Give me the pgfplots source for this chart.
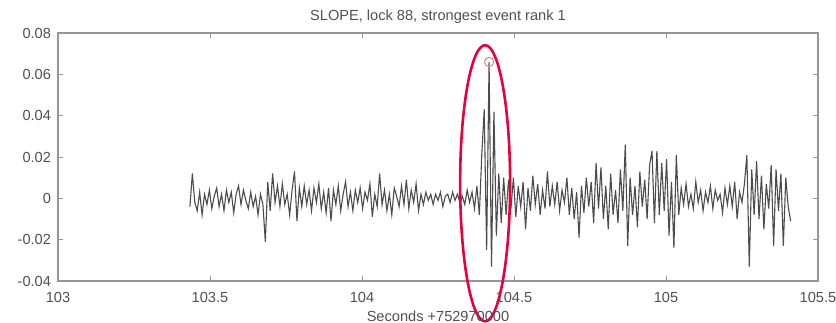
\documentclass[border=0pt]{standalone}
\usepackage{pgfplots}
\pgfplotsset{compat=1.18}
\usepackage{pgfplotstable}
\usepackage{fontspec}
\setmainfont{Liberation Sans}
\definecolor{axgray}{RGB}{150,150,150}
\definecolor{txtgray}{RGB}{80,80,80}
\definecolor{ellred}{RGB}{232,0,62}
\definecolor{pkred}{RGB}{225,130,130}
\pgfplotstableread{
y
-0.004
0.012
-0.002
-0.006
0.003
-0.008
0.002
-0.003
0.004
-0.005
0.001
0.005
-0.004
0.002
-0.006
0.004
-0.002
0.003
-0.007
0.002
0.006
-0.003
0.004
-0.001
-0.005
0.003
-0.004
0.001
-0.008
0.002
-0.003
-0.021
0.008
-0.006
0.012
-0.002
0.006
-0.004
0.007
-0.003
0.002
-0.008
0.004
0.013
-0.011
0.005
-0.004
0.006
-0.003
0.004
-0.006
0.005
-0.002
0.007
-0.005
0.003
-0.007
0.005
-0.011
0.004
-0.003
0.006
-0.006
0.002
0.008
-0.004
0.003
-0.006
0.004
-0.002
0.005
-0.005
0.003
-0.001
0.007
-0.009
0.002
-0.004
0.012
-0.003
0.004
-0.006
0.002
-0.008
0.005
0.001
-0.004
0.006
-0.003
0.009
-0.005
0.004
-0.002
0.007
-0.006
0.002
-0.003
0.003
-0.001
0.002
-0.003
0.002
-0.001
0.003
-0.004
0.001
0.002
-0.002
0.003
-0.001
0.002
-0.002
0.001
-0.003
0.004
-0.002
0.003
-0.005
0.006
-0.008
0.021
0.043
-0.025
0.066
-0.033
0.042
-0.018
0.012
-0.012
0.010
-0.008
0.009
-0.005
0.010
-0.009
0.006
-0.004
0.008
-0.015
0.005
-0.006
0.011
-0.003
0.007
-0.008
0.004
-0.005
0.013
-0.004
0.006
-0.003
0.008
-0.006
0.004
-0.002
0.010
-0.008
0.005
-0.010
0.003
-0.019
0.006
-0.007
0.010
-0.004
0.008
-0.012
0.017
-0.005
0.015
-0.010
0.006
-0.015
0.012
-0.008
0.004
-0.012
0.014
-0.006
0.026
-0.023
0.010
-0.008
0.006
-0.014
0.013
-0.004
0.009
-0.010
0.016
0.023
-0.012
0.023
-0.008
0.017
-0.006
0.019
-0.018
0.008
-0.024
0.021
-0.008
0.005
-0.003
0.007
-0.004
0.002
-0.005
0.008
-0.002
0.004
-0.006
0.003
-0.002
0.006
-0.005
0.004
-0.001
0.002
-0.007
0.005
-0.003
0.006
-0.004
0.008
-0.010
0.003
-0.002
0.007
0.021
-0.033
0.014
-0.008
0.018
-0.010
0.011
-0.015
0.007
-0.005
0.016
-0.023
0.014
-0.006
0.012
-0.023
0.010
-0.004
-0.011
}\sig
\begin{document}
\begin{tikzpicture}
\useasboundingbox (-29pt,-20.5pt) rectangle (389pt,140.5pt);
\begin{axis}[
  at={(0,0)}, anchor=south west,
  scale only axis, width=380pt, height=124pt,
  xmin=103, xmax=105.5, ymin=-0.04, ymax=0.08,
  xtick={103,103.5,104,104.5,105,105.5},
  ytick={-0.04,-0.02,0,0.02,0.04,0.06,0.08},
  scaled y ticks=false, scaled x ticks=false,
  yticklabel style={/pgf/number format/fixed,/pgf/number format/precision=2},
  xticklabel style={/pgf/number format/fixed,/pgf/number format/precision=1, yshift=-2pt},
  /pgf/number format/assume math mode=true,
  tick align=inside, major tick length=2.5pt,
  tick style={axgray, line width=0.5pt},
  axis line style={axgray, line width=0.6pt},
  ticklabel style={font=\fontsize{7.3}{8.5}\selectfont, text=txtgray},
  title={SLOPE, lock 88, strongest event rank 1},
  title style={font=\fontsize{7.3}{8.5}\selectfont, text=txtgray, yshift=-5pt},
  xlabel={Seconds +752970000},
  xlabel style={font=\fontsize{7.3}{8.5}\selectfont, text=txtgray, yshift=2.5pt},
  clip=false,
]
\addplot[black!70, line width=0.55pt] table[x expr=103.434+\coordindex*0.008, y=y] {\sig};
\addplot[only marks, mark=o, mark size=2.3pt, pkred, line width=0.5pt] coordinates {(104.418,0.066)};
\draw[ellred, line width=1.3pt] (axis cs:104.405,0.0073) ellipse [x radius=0.0822, y radius=0.0668];
\end{axis}
\end{tikzpicture}
\end{document}
